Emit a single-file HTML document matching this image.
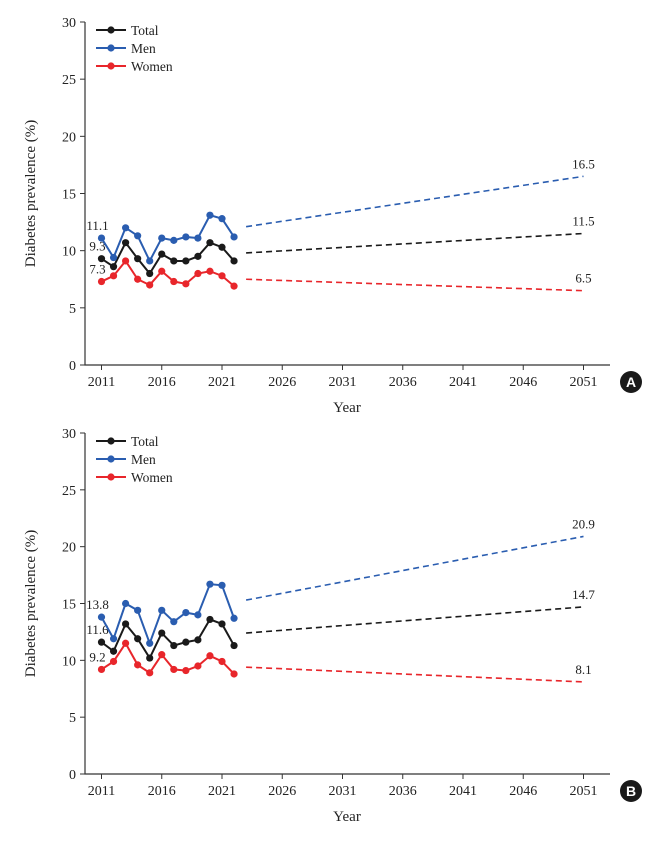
<!DOCTYPE html>
<html><head><meta charset="utf-8"><style>
body{margin:0;background:#fff;}
svg text{font-family:"Liberation Serif",serif;fill:#222;}
</style></head><body>
<svg id="chart" width="669" height="840" xmlns="http://www.w3.org/2000/svg"></svg>
<script>
const years=[2011,2012,2013,2014,2015,2016,2017,2018,2019,2020,2021,2022];
const xTicks=[2011,2016,2021,2026,2031,2036,2041,2046,2051];
const yTicks=[0,5,10,15,20,25,30];
const seriesNames=["Total","Men","Women"];
const seriesColors=["#1a1a1a","#2a5db0","#e8262b"];
const aTotal=[9.3,8.6,10.7,9.3,8.0,9.7,9.1,9.1,9.5,10.7,10.3,9.1];
const aMen=[11.1,9.4,12.0,11.3,9.1,11.1,10.9,11.2,11.1,13.1,12.8,11.2];
const aWomen=[7.3,7.8,9.1,7.5,7.0,8.2,7.3,7.1,8.0,8.2,7.8,6.9];
const aProjStart=[9.8,12.1,7.5];
const aProjEnd=[11.5,16.5,6.5];
const bTotal=[11.6,10.8,13.2,11.9,10.2,12.4,11.3,11.6,11.8,13.6,13.2,11.3];
const bMen=[13.8,11.9,15.0,14.4,11.5,14.4,13.4,14.2,14.0,16.7,16.6,13.7];
const bWomen=[9.2,9.9,11.5,9.6,8.9,10.5,9.2,9.1,9.5,10.4,9.9,8.8];
const bProjStart=[12.4,15.3,9.4];
const bProjEnd=[14.7,20.9,8.1];
const projYears=[2023,2051];

const svg=document.getElementById('chart');
const NS="http://www.w3.org/2000/svg";
function mk(tag,attrs,parent){const e=document.createElementNS(NS,tag);for(const k in attrs)e.setAttribute(k,attrs[k]);(parent||svg).appendChild(e);return e;}

function panel(id,top,bottom,series,ps,pe,letter){
  const g=mk('g',{});
  
  
  const left=85,right=610;
  const xS=y=>101.5+(y-2011)*12.05;
  const yS=v=>bottom-(v/30)*(bottom-top);
  const ax=mk('path',{d:`M${left},${top} V${bottom} H${right}`,stroke:'#333',fill:'none','stroke-width':1.2},g);
  
  
  yTicks.forEach(t=>{
    mk('line',{x1:left-5,x2:left,y1:yS(t),y2:yS(t),stroke:'#333'},g);
    const tx=mk('text',{x:left-9,y:yS(t)+5,'text-anchor':'end','font-size':14},g);
    tx.textContent=t;
    
    
  });
  xTicks.forEach(t=>{
    mk('line',{x1:xS(t),x2:xS(t),y1:bottom,y2:bottom+5,stroke:'#333'},g);
    const tx=mk('text',{x:xS(t),y:bottom+21,'text-anchor':'middle','font-size':14},g);
    tx.textContent=t;
    
    
  });
  const xt=mk('text',{x:347,y:bottom+47,'text-anchor':'middle','font-size':15},g);
  xt.textContent='Year';
  
  
  const cy=(top+bottom)/2;
  const yt=mk('text',{x:35,y:cy,'text-anchor':'middle','font-size':15,transform:`rotate(-90 35 ${cy})`},g);
  yt.textContent='Diabetes prevalence (%)';
  
  
  series.forEach((vals,i)=>{
    const c=seriesColors[i];
    const pl=mk('polyline',{points:vals.map((v,j)=>xS(years[j])+','+yS(v)).join(' '),fill:'none',stroke:c,'stroke-width':2},g);
    
    
    vals.forEach((v,j)=>{
      const p=mk('circle',{cx:xS(years[j]),cy:yS(v),r:3.6,fill:c},g);
      
      
    });
    const pr=mk('line',{x1:xS(projYears[0]),y1:yS(ps[i]),x2:xS(projYears[1]),y2:yS(pe[i]),stroke:c,'stroke-width':1.6,'stroke-dasharray':'6,4'},g);
    
    
    const el=mk('text',{x:xS(2051),y:yS(pe[i])-8,'text-anchor':'middle','font-size':13},g);
    el.textContent=pe[i].toFixed(1);
    
    
    const sl=mk('text',{x:xS(2011)-4,y:yS(vals[0])-8,'text-anchor':'middle','font-size':13},g);
    sl.textContent=vals[0].toFixed(1);
    
    
    const ly=top+8+i*18;
    const le=mk('g',{},g);
    
    
    mk('line',{x1:96,x2:126,y1:ly,y2:ly,stroke:c,'stroke-width':2},le);
    mk('circle',{cx:111,cy:ly,r:3.6,fill:c},le);
    const lt=mk('text',{x:131,y:ly+5,'font-size':13.5},le);
    lt.textContent=seriesNames[i];
  });
  const bd=mk('g',{},g);
  
  
  mk('circle',{cx:631,cy:bottom+17,r:11,fill:'#1a1a1a'},bd);
  const bt=mk('text',{x:631,y:bottom+22,'text-anchor':'middle','font-size':14,'font-weight':'bold',style:'fill:#fff;font-family:Liberation Sans,sans-serif'},bd);
  bt.textContent=letter;
}
panel('a',22,365,[aTotal,aMen,aWomen],aProjStart,aProjEnd,'A');
panel('b',433,774,[bTotal,bMen,bWomen],bProjStart,bProjEnd,'B');
</script>
</body></html>
